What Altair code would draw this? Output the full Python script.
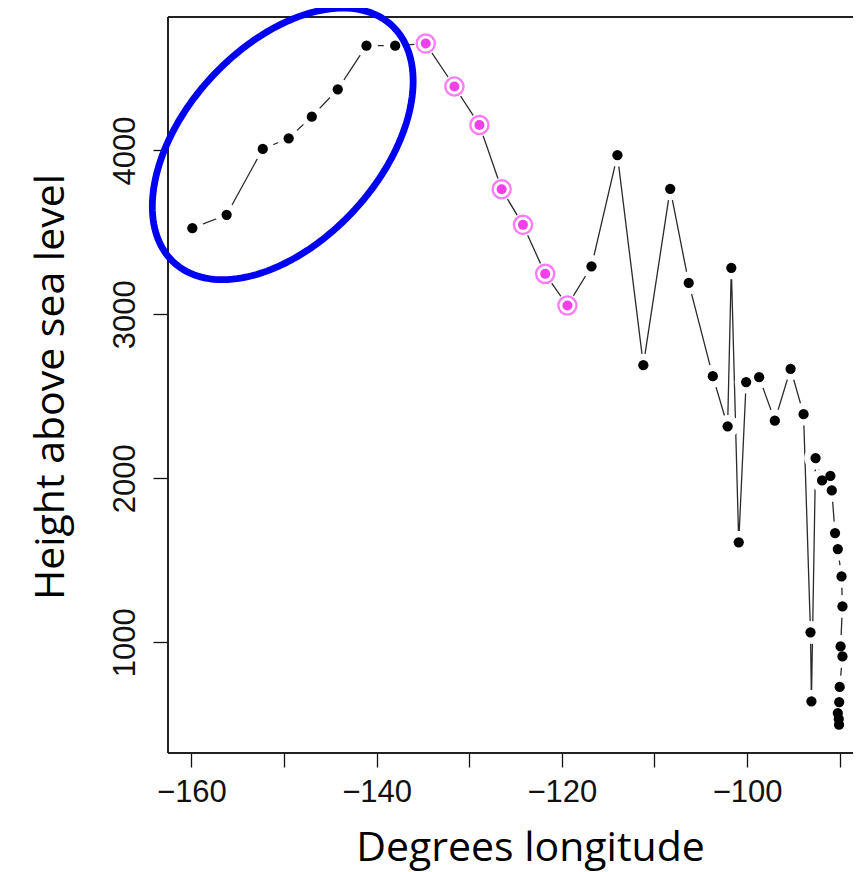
import math
import altair as alt
import pandas as pd

# ---- data ----
lon = [-159.9, -156.2, -152.3, -149.5, -147.0, -144.2, -141.1, -138.0,
       -134.7, -131.6, -128.9, -126.5, -124.2, -121.8, -119.4,
       -116.8, -114.0, -111.2, -108.3, -106.3, -103.7, -102.1, -101.7,
       -100.9, -100.1, -98.7, -97.0, -95.3, -93.9, -93.15, -93.05,
       -92.6, -91.9, -91.0, -90.85, -90.5, -90.2, -89.8, -89.7, -89.9,
       -89.7, -90.0, -90.05, -90.2, -90.1, -90.07]
height = [3526, 3607, 4009, 4074, 4206, 4373, 4639, 4639,
          4652, 4390, 4155, 3763, 3546, 3247, 3054,
          3293, 3971, 2690, 3766, 3192, 2623, 2317, 3284,
          1609, 2587, 2617, 2351, 2668, 2391, 1060, 639,
          2123, 1987, 2015, 1926, 1666, 1568, 1401, 1218, 974,
          913, 727, 635, 568, 532, 497]
highlighted = list(range(8, 15))  # magenta points

x_ticks = [-160, -150, -140, -130, -120, -110, -100, -90]
y_ticks = [1000, 2000, 3000, 4000]

X_DOMAIN = [-162.53, -88.56]
Y_DOMAIN = [324, 4814]
PLOT_W = 685
PLOT_H = 736

# ellipse annotation parameters (centre in data units, axes in pixels)
ELL_CX, ELL_CY = -150.14, 4040
ELL_A, ELL_B, ELL_ANGLE = 161.0, 97.6, 47.5

df = pd.DataFrame({
    "lon": lon,
    "height": height,
    "idx": list(range(len(lon))),
    "hl": [1 if i in highlighted else 0 for i in range(len(lon))],
})

px_per_lon = PLOT_W / (X_DOMAIN[1] - X_DOMAIN[0])
px_per_m = PLOT_H / (Y_DOMAIN[1] - Y_DOMAIN[0])
th = math.radians(ELL_ANGLE)
ell_rows = []
N = 160
for k in range(N + 1):
    t = 2 * math.pi * k / N
    dx = ELL_A * math.cos(t) * math.cos(th) - ELL_B * math.sin(t) * math.sin(th)
    dy = ELL_A * math.cos(t) * math.sin(th) + ELL_B * math.sin(t) * math.cos(th)
    ell_rows.append({"lon": ELL_CX + dx / px_per_lon,
                     "height": ELL_CY + dy / px_per_m, "k": k})
ell = pd.DataFrame(ell_rows)

TICK_FONT = "Liberation Sans, Arial, Helvetica, sans-serif"
TITLE_FONT = "Open Sans"
MINUS = "\u2212"
x_enc = alt.X(
    "lon:Q",
    scale=alt.Scale(domain=X_DOMAIN, nice=False, zero=False),
    axis=alt.Axis(
        values=x_ticks,
        labelExpr=f"datum.value % 20 == 0 ? '{MINUS}' + abs(datum.value) : ''",
        domain=False, grid=False,
        tickSize=14, tickWidth=1.3, tickColor="#111",
        labelFont=TICK_FONT, labelFontSize=31, labelColor="#111",
        labelPadding=10, labelBaseline="top", labelFlush=False, labelOverlap=False,
        title="Degrees longitude", titleFont=TITLE_FONT, titleFontSize=41,
        titleFontWeight="normal", titleColor="black",
        titleX=362, titleY=107, titleAlign="center", titleBaseline="alphabetic",
    ),
)
y_enc = alt.Y(
    "height:Q",
    scale=alt.Scale(domain=Y_DOMAIN, nice=False, zero=False),
    axis=alt.Axis(
        values=y_ticks, format="d",
        domain=False, grid=False,
        tickSize=15, tickWidth=1.3, tickColor="#111",
        labelFont=TICK_FONT, labelFontSize=31, labelColor="#111",
        labelAngle=270, labelAlign="center", labelBaseline="alphabetic",
        labelPadding=19, labelFlush=False, labelOverlap=False,
        title="Height above sea level", titleFont=TITLE_FONT, titleFontSize=41,
        titleFontWeight="normal", titleColor="black",
        titleAngle=270, titleX=-105, titleY=369.5, titleAlign="center",
        titleBaseline="alphabetic",
    ),
)

base = alt.Chart(df)

lines = base.mark_line(color="#2a2a2a", strokeWidth=1.3).encode(
    x=x_enc, y=y_enc, order="idx:Q")
halos = base.mark_circle(color="white", opacity=1, size=520).encode(x=x_enc, y=y_enc)
dots = base.transform_filter("datum.hl == 0").mark_circle(
    color="black", opacity=1, size=105).encode(x=x_enc, y=y_enc)
mag_dots = base.transform_filter("datum.hl == 1").mark_circle(
    color="#F23FE8", opacity=1, size=100).encode(x=x_enc, y=y_enc)
mag_rings = base.transform_filter("datum.hl == 1").mark_point(
    shape="circle", filled=False, stroke="#FF7CF6", strokeWidth=2.4,
    opacity=1, size=330).encode(x=x_enc, y=y_enc)

frame_top = alt.Chart(df).mark_rule(color="#222", strokeWidth=1.4).encode(
    x=alt.value(0), x2=alt.value(PLOT_W), y=alt.value(0))
frame_left = alt.Chart(df).mark_rule(color="#222", strokeWidth=1.4).encode(
    x=alt.value(0), y=alt.value(0), y2=alt.value(PLOT_H))
frame_bottom = alt.Chart(df).mark_rule(color="#222", strokeWidth=1.4).encode(
    x=alt.value(0), x2=alt.value(PLOT_W), y=alt.value(PLOT_H))

ellipse = alt.Chart(ell).mark_line(
    color="#0000F2", strokeWidth=6.8, strokeJoin="round", strokeCap="round").encode(
    x=x_enc, y=y_enc, order="k:Q")

chart = alt.layer(
    lines, halos, frame_top, frame_left, frame_bottom, dots, mag_rings, mag_dots, ellipse
).properties(
    width=PLOT_W, height=PLOT_H,
    autosize=alt.AutoSizeParams(type="none"),
    padding={"left": 160, "top": 9, "right": 0, "bottom": 118},
    background="white",
).configure_view(stroke=None)

chart.save("out.html", embed_options={"renderer": "svg", "actions": False})
